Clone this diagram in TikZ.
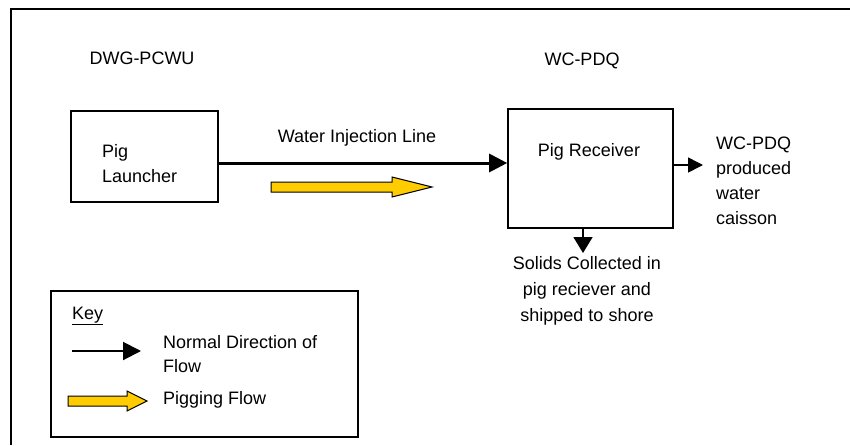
\documentclass[tikz,border=0pt]{standalone}
\usepackage{fontspec}
\setmainfont{Liberation Sans}
\usetikzlibrary{arrows.meta}
\begin{document}
\begin{tikzpicture}[x=1pt,y=-1pt,
  every node/.style={font=\fontsize{18}{25}\selectfont, inner sep=0pt},
  unitbox/.style={draw, line width=1.6pt, minimum width=#1},
  lbl/.style={anchor=west, align=left},
  clbl/.style={align=center},
  mainflow/.style={line width=3pt, -{Triangle[length=18pt,width=18pt]}},
  flow/.style={line width=1.6pt, -{Triangle[length=15pt,width=15pt]}},
  pigarrow/.style={draw=black, line width=1pt, fill=pigyellow}]
\definecolor{pigyellow}{HTML}{FFCC00}
\useasboundingbox (0,0) rectangle (850,445);
% outer frame (only top and left visible)
\draw[line width=2pt] (850,9) -- (11,9) -- (11,445);

% headings
\node (h1) at (142,58) {DWG-PCWU};
\node (h2) at (582,61) {WC-PDQ};

% boxes
\node[unitbox=147pt, minimum height=91pt] (launcher) at (144.5,156.5) {};
\node[unitbox=165pt, minimum height=119pt] (receiver) at (590.5,168.5) {};
\node[lbl] (launchtxt) at (102,164) {Pig\\Launcher};
\node (rectxt) at (589,152) {Pig Receiver};

% main line
\coordinate (my) at (0,163);
\draw[mainflow] (launcher.east |- my) -- (receiver.west |- my);
\node (wil) at (357,138) {Water Injection Line};

% pigging arrow
\draw[pigarrow] (271,182) -- (392,182) -- (392,177) -- (432,187) -- (392,197) -- (392,192) -- (271,192) -- cycle;

% output to caisson
\coordinate (oy) at (0,165);
\coordinate (outend) at (703,165);
\draw[flow] (receiver.east |- oy) -- (outend);
\node[lbl] (caisson) at (716,180.5) {WC-PDQ\\produced\\water\\caisson};

% solids down
\coordinate (dx) at (583,0);
\coordinate (downend) at (583,253);
\draw[flow, -{Triangle[length=16pt,width=19pt]}] (receiver.south -| dx) -- (downend);
\node[clbl, font=\fontsize{18}{26}\selectfont] (solids) at (587,291) {Solids Collected in\\pig reciever and\\shipped to shore};

% key
\node[draw, line width=1.6pt, minimum width=307pt, minimum height=146pt] (key) at (204.5,364) {};
\node[anchor=west] (keytxt) at (72,316) {\underline{Key}};
\coordinate (ks) at (72,351);
\coordinate (ke) at (141,351);
\draw[line width=2pt, -{Triangle[length=18pt,width=18pt]}] (ks) -- (ke);
\node[lbl, font=\fontsize{18}{24}\selectfont] (normtxt) at (163,354) {Normal Direction of\\Flow};
\draw[pigarrow] (68,396) -- (127,396) -- (127,391) -- (147,401) -- (127,411) -- (127,406) -- (68,406) -- cycle;
\node[lbl] (pigtxt) at (163,400) {Pigging Flow};
\end{tikzpicture}
\end{document}
